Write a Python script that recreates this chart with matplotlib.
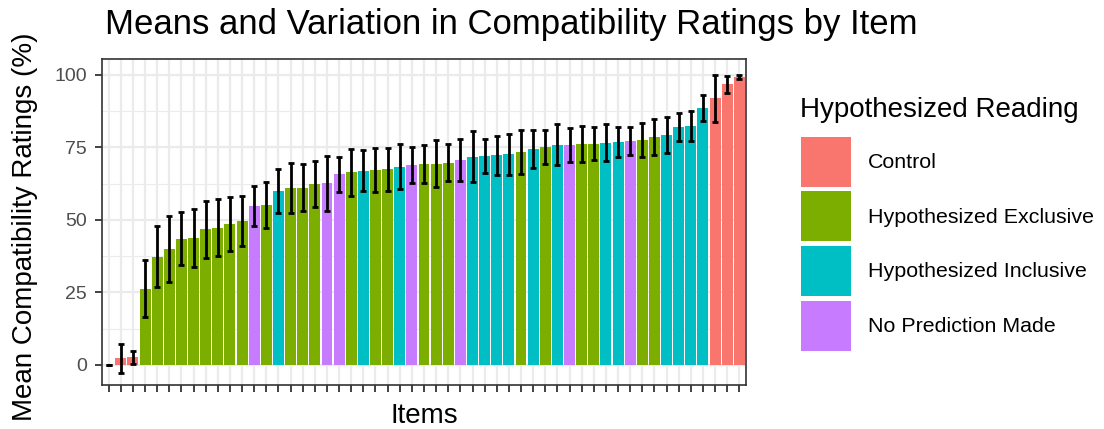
import matplotlib
matplotlib.use("Agg")
import matplotlib.pyplot as plt
from matplotlib.patches import Patch
from matplotlib.ticker import MultipleLocator
import numpy as np

plt.rcParams["font.family"] = ["Liberation Sans", "DejaVu Sans"]

# categories of the hypothesized reading, one per item (sorted by mean)
category_names = ["Control", "Hypothesized Exclusive", "Hypothesized Inclusive", "No Prediction Made"]
category_colors = ["#F8766D", "#7CAE00", "#00BFC4", "#C77CFF"]

item_category = [
    "Control", "Control", "Control",
    "Hypothesized Exclusive", "Hypothesized Exclusive", "Hypothesized Exclusive",
    "Hypothesized Exclusive", "Hypothesized Exclusive", "Hypothesized Exclusive",
    "Hypothesized Exclusive", "Hypothesized Exclusive", "Hypothesized Exclusive",
    "No Prediction Made", "Hypothesized Exclusive", "Hypothesized Inclusive",
    "Hypothesized Exclusive", "Hypothesized Exclusive", "Hypothesized Exclusive",
    "No Prediction Made", "No Prediction Made", "Hypothesized Exclusive",
    "Hypothesized Inclusive", "Hypothesized Exclusive", "Hypothesized Exclusive",
    "Hypothesized Inclusive", "No Prediction Made", "Hypothesized Exclusive",
    "Hypothesized Exclusive", "Hypothesized Exclusive", "No Prediction Made",
    "Hypothesized Inclusive", "Hypothesized Inclusive", "Hypothesized Inclusive",
    "Hypothesized Inclusive", "Hypothesized Exclusive", "Hypothesized Inclusive",
    "Hypothesized Exclusive", "Hypothesized Inclusive", "No Prediction Made",
    "Hypothesized Exclusive", "Hypothesized Exclusive", "Hypothesized Inclusive",
    "Hypothesized Inclusive", "No Prediction Made", "Hypothesized Exclusive",
    "Hypothesized Exclusive", "Hypothesized Inclusive", "Hypothesized Inclusive",
    "Hypothesized Inclusive", "Hypothesized Inclusive",
    "Control", "Control", "Control",
]

mean_rating = [
    0.0, 2.3, 2.6, 26.3, 37.3, 40.0, 43.6, 43.9, 46.8, 47.4,
    48.6, 49.7, 54.8, 55.2, 60.0, 60.9, 61.1, 62.4, 62.6, 65.7,
    66.4, 67.0, 67.2, 67.5, 68.4, 69.0, 69.3, 69.4, 69.8, 70.7,
    71.8, 72.1, 72.3, 72.6, 73.4, 74.5, 75.1, 75.9, 75.9, 76.2,
    76.3, 76.7, 77.0, 77.2, 77.6, 78.5, 79.3, 82.0, 82.5, 88.5,
    91.9, 96.8, 99.4,
]

rating_err = [
    0.0, 4.9, 2.1, 9.85, 10.5, 11.25, 9.05, 10.0, 9.8, 9.75,
    9.4, 8.65, 7.05, 8.0, 7.55, 8.6, 8.05, 7.8, 9.6, 5.9,
    8.05, 7.05, 7.7, 7.45, 7.65, 6.3, 6.65, 8.15, 6.25, 7.3,
    8.75, 5.8, 6.7, 7.0, 7.7, 6.45, 5.85, 7.1, 5.95, 6.15,
    5.75, 6.5, 5.2, 4.8, 5.95, 6.25, 6.3, 4.9, 5.15, 4.45,
    8.2, 2.9, 0.7,
]

W, H = 1104, 429
fig = plt.figure(figsize=(W / 100, H / 100), dpi=100)
# panel placed in pixel coordinates
left, right, top, bottom = 102, 746, 59, 385
ax = fig.add_axes([left / W, 1 - bottom / H, (right - left) / W, (bottom - top) / H])

color_map = dict(zip(category_names, category_colors))
x = np.arange(len(mean_rating))
bar_colors = [color_map[c] for c in item_category]

ax.bar(x, mean_rating, width=0.9, color=bar_colors, zorder=2)
ax.errorbar(x, mean_rating, yerr=rating_err, fmt="none", ecolor="black",
            elinewidth=2.0, capsize=2.2, capthick=2.0, zorder=3)

ax.set_xlim(-0.55, len(x) - 0.45)
ax.set_ylim(-6.9, 105.5)
ax.set_xticks(x)
ax.set_xticklabels([])
ax.yaxis.set_major_locator(MultipleLocator(25))
ax.yaxis.set_minor_locator(MultipleLocator(12.5))

ax.grid(True, which="major", color="#EBEBEB", linewidth=1.6, zorder=0)
ax.grid(True, which="minor", axis="y", color="#EBEBEB", linewidth=0.8, zorder=0)
ax.set_axisbelow(True)
ax.tick_params(axis="both", which="major", length=5, width=1.3, color="#333333",
               labelsize=14, labelcolor="#4D4D4D", pad=6)
ax.tick_params(axis="y", which="minor", length=0)
for s in ax.spines.values():
    s.set_color("#333333")
    s.set_linewidth(1.2)

ax.set_xlabel("Items", fontsize=20, labelpad=2)
ax.set_ylabel("Mean Compatibility Ratings (%)", fontsize=20)
ax.yaxis.set_label_coords((38 - left) / (right - left), 0.485)
fig.text(105 / W, 1 - 8 / H, "Means and Variation in Compatibility Ratings by Item",
         fontsize=25, ha="left", va="top")

# legend: title as text, keys via fig.legend
fig.text(800.5 / W, 1 - 117 / H, "Hypothesized Reading", fontsize=20,
         ha="left", va="baseline")
handles = [Patch(facecolor=c, edgecolor="none") for c in category_colors]
fig.legend(handles, category_names,
           loc="upper left", bbox_to_anchor=(800.5 / W, 1 - 136.5 / H),
           frameon=False, fontsize=15.4,
           handlelength=2.34, handleheight=3.22, labelspacing=0.23,
           handletextpad=0.8, borderpad=0, borderaxespad=0)

fig.savefig("out.png", dpi=100)
